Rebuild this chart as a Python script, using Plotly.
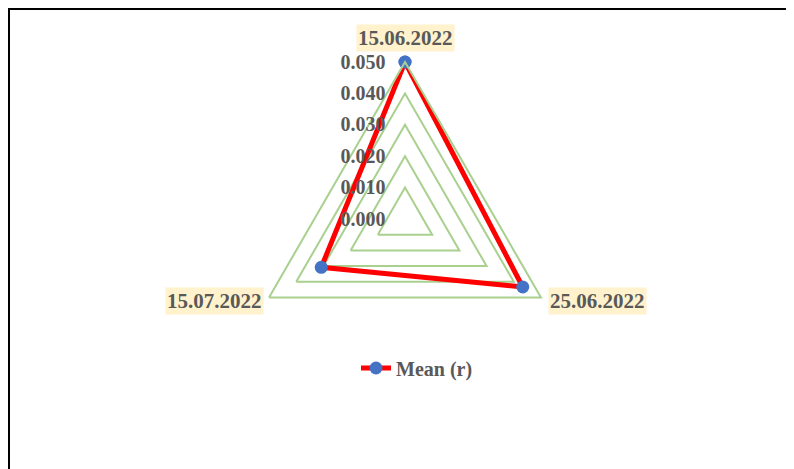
import math

import plotly.graph_objects as go

# data
dates = ["15.06.2022", "25.06.2022", "15.07.2022"]
mean_r = [0.050, 0.0433, 0.0308]
series_name = "Mean (r)"

W, H = 794, 469
CX, CY, R = 397, 211, 157          # centre and radius of the polar area, px (figure coords)

FONT = "Liberation Serif"
GREY = "#595959"
GRID = "#A9D08E"

fig = go.Figure()
fig.add_trace(go.Scatterpolar(
    r=mean_r + mean_r[:1], theta=dates + dates[:1],
    mode="lines+markers", name=series_name,
    line=dict(color="#FF0000", width=5),
    marker=dict(color="#4472C4", size=13),
))

# category labels with the pale fill Excel uses
annotations = []
for i, d in enumerate(dates):
    a = math.radians(90 - 120 * i)
    vx, vy = CX + R * math.cos(a), CY - R * math.sin(a)
    if abs(math.cos(a)) < 0.1:
        xa, ya, dx, dy = "center", "bottom", 0, 10
    elif math.cos(a) > 0:
        xa, ya, dx, dy = "left", "middle", 7, -3
    else:
        xa, ya, dx, dy = "right", "middle", -5, -3
    annotations.append(dict(
        x=(vx + dx) / W, y=1 - (vy - dy) / H, xref="paper", yref="paper",
        xanchor=xa, yanchor=ya, text=f"<b>{d}</b>", showarrow=False,
        bgcolor="#FFF2CC", borderpad=1,
        font=dict(family=FONT, size=21, color=GREY),
    ))

fig.update_layout(
    width=W, height=H,
    paper_bgcolor="white", plot_bgcolor="white",
    margin=dict(l=0, r=0, t=0, b=0),
    font=dict(family=FONT, size=20, color=GREY),
    polar=dict(
        domain=dict(x=[(CX - R) / W, (CX + R) / W],
                    y=[(H - CY - R) / H, (H - CY + R) / H]),
        gridshape="linear",
        bgcolor="white",
        radialaxis=dict(
            range=[0, 0.05], tickvals=[0, 0.01, 0.02, 0.03, 0.04, 0.05],
            ticktext=["0.000", "0.010", "0.020", "0.030", "0.040", "0.050"],
            angle=90, side="counterclockwise", tickangle=90,
            showline=False, gridcolor=GRID, gridwidth=2,
            ticks="outside", ticklen=12, tickcolor="rgba(0,0,0,0)",
            tickfont=dict(family=FONT, size=20, color=GREY, weight="bold"),
        ),
        angularaxis=dict(
            direction="clockwise", rotation=90,
            showticklabels=False, ticks="",
            showgrid=False, showline=True, linecolor=GRID, linewidth=2,
        ),
    ),
    showlegend=True,
    legend=dict(
        orientation="h", x=0.5 + 12 / W, xanchor="center",
        y=1 - 360 / H, yanchor="middle",
        font=dict(family=FONT, size=20, color=GREY, weight="bold"),
        bgcolor="rgba(0,0,0,0)",
    ),
    annotations=annotations,
    shapes=[
        dict(type="line", xref="paper", yref="paper", x0=1 / W, x1=1 / W,
             y0=0, y1=1, line=dict(color="black", width=2)),
        dict(type="line", xref="paper", yref="paper", x0=0, x1=1,
             y0=1 - 1 / H, y1=1 - 1 / H, line=dict(color="black", width=2)),
    ],
)

fig.write_html("out.html")
